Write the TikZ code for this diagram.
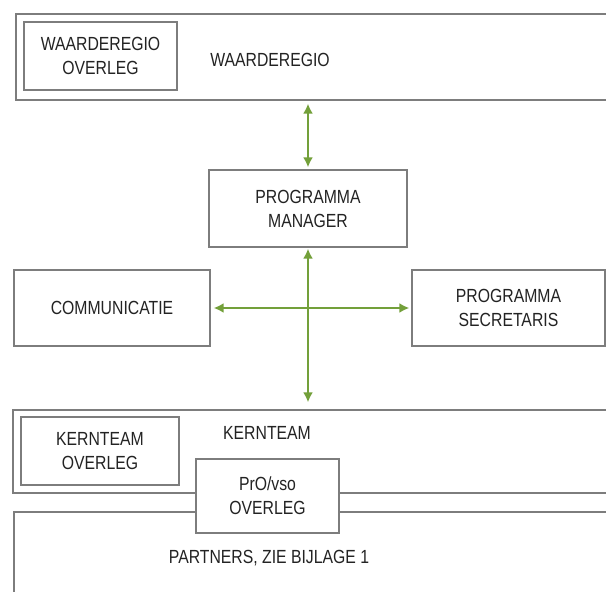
\documentclass[tikz,border=0pt]{standalone}
\usepackage{fontspec}
\setmainfont{Liberation Sans}[FakeStretch=0.83]
\usepackage{tikz}
\usetikzlibrary{arrows.meta, positioning}

\definecolor{boxgray}{RGB}{125,125,125}
\definecolor{txtgray}{RGB}{35,35,35}
\definecolor{arrgreen}{RGB}{115,160,58}

\tikzset{
  orgbox/.style={draw=boxgray, line width=1.3pt, fill=white, inner sep=0pt,
    align=center, text=txtgray, font=\fontsize{19}{24}\selectfont},
  lbl/.style={text=txtgray, font=\fontsize{19}{24}\selectfont, inner sep=0pt},
  link/.style={arrgreen, line width=2pt, {Latex[length=10pt,width=10pt]}-{Latex[length=10pt,width=10pt]}}
}

\begin{document}
\begin{tikzpicture}[x=1pt, y=-1pt]
  \useasboundingbox (0,0) rectangle (606,592);
  \clip (0,0) rectangle (606,592);
  % waarderegio
  \node [orgbox, minimum width=604pt, minimum height=86pt] (wr) at (318,57) {};
  \node [orgbox, minimum width=153pt, minimum height=68pt] (wro) at (100.5,56) {WAARDEREGIO\\OVERLEG};
  \node [lbl] (wrt) at (270,60) {WAARDEREGIO};
  % middle
  \node [orgbox, minimum width=198pt, minimum height=77pt] (pm) at (308,208.5) {PROGRAMMA\\MANAGER};
  \node [orgbox, minimum width=196pt, minimum height=76pt] (comm) at (112,308) {COMMUNICATIE};
  \node [orgbox, minimum width=193pt, minimum height=76pt] (sec) at (508.5,308) {PROGRAMMA\\SECRETARIS};
  % kernteam
  \node [orgbox, minimum width=607pt, minimum height=83pt] (kt) at (316.5,451.5) {};
  \node [orgbox, minimum width=158pt, minimum height=68pt] (kto) at (100,451) {KERNTEAM\\OVERLEG};
  \node [lbl] (ktt) at (267,433) {KERNTEAM};
  % partners
  \node [orgbox, minimum width=606pt, minimum height=100pt] (pa) at (317,562) {};
  \node [lbl] (pat) at (269,558) {PARTNERS, ZIE BIJLAGE 1};
  \node [orgbox, minimum width=143pt, minimum height=74pt] (pro) at (267.5,496) {PrO/vso\\OVERLEG};
  % arrows
  \draw [link, shorten <=3pt, shorten >=2pt] (wr.south -| pm) -- (pm.north);
  \draw [link, shorten <=1pt, shorten >=7pt] (pm.south) -- (kt.north -| pm);
  \draw [link, shorten <=3pt, shorten >=2pt] (comm.east) -- (sec.west);
\end{tikzpicture}
\end{document}
